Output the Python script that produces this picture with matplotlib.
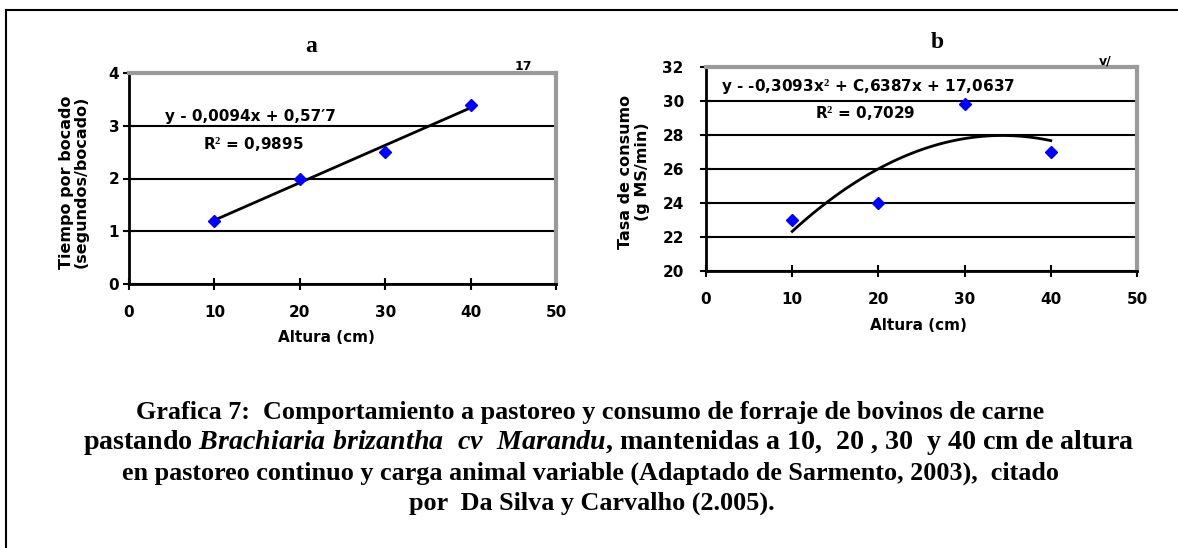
import numpy as np
import matplotlib
matplotlib.use("Agg")
import matplotlib.pyplot as plt

# data
altura = [10, 20, 30, 40]
tiempo_bocado = [1.2, 2.0, 2.5, 3.4]
tasa_consumo = [23.0, 24.0, 29.8, 27.0]

xticks = [0, 10, 20, 30, 40, 50]
yticks_a = [0, 1, 2, 3, 4]
yticks_b = [20, 22, 24, 26, 28, 30, 32]

eq_a = "y - 0,0094x + 0,57\u20327"
r2_a = "R$^2$ = 0,9895"
eq_b = "y - -0,3093x$^2$ + C,6387x + 17,0637"
r2_b = "R$^2$ = 0,7029"

caption = [
    "Grafica 7:  Comportamiento a pastoreo y consumo de forraje de bovinos de carne",
    r"pastando $\mathit{Brachiaria\ brizantha\ \ cv\ \ Marandu}$, mantenidas a 10,  20 , 30  y 40 cm de altura",
    "en pastoreo continuo y carga animal variable (Adaptado de Sarmento, 2003),  citado",
    "por  Da Silva y Carvalho (2.005).",
]
caption_x = [590, 609, 590, 592]
caption_size = [18.8, 20.2, 18.8, 18.8]

plt.rcParams['font.family'] = ['DejaVu Sans']
plt.rcParams['mathtext.fontset'] = 'custom'
plt.rcParams['mathtext.rm'] = 'Liberation Serif:bold'
plt.rcParams['mathtext.it'] = 'Liberation Serif:italic:bold'
plt.rcParams['mathtext.bf'] = 'Liberation Serif:bold'

W, H = 1178, 548
fig = plt.figure(figsize=(W / 100, H / 100), dpi=100)
fig.patch.set_facecolor('white')


def fx(px):
    return px / W


def fy(py):
    return 1 - py / H


# outer frame of the scanned figure
fig.add_artist(plt.Line2D([fx(6), fx(6)], [fy(10), fy(560)], color='black', lw=1.5))
fig.add_artist(plt.Line2D([fx(6), fx(1190)], [fy(10), fy(10)], color='black', lw=1.5))


def style_axes(ax, yticks, ypad):
    ax.set_facecolor('white')
    for s in ['left', 'bottom']:
        ax.spines[s].set_color('black')
        ax.spines[s].set_linewidth(2)
    for s in ['top', 'right']:
        ax.spines[s].set_color('#9a9a9a')
        ax.spines[s].set_linewidth(3)
    ax.set_xlim(0, 50)
    ax.set_xticks(xticks)
    ax.set_ylim(yticks[0], yticks[-1])
    ax.set_yticks(yticks)
    ax.grid(axis='y', color='black', lw=1.5)
    ax.set_axisbelow(True)
    ax.tick_params(direction='inout', length=8, width=1.5, color='black')
    ax.tick_params(axis='x', pad=11, labelsize=11)
    ax.tick_params(axis='y', pad=ypad, labelsize=11)
    for lab in ax.get_xticklabels() + ax.get_yticklabels():
        lab.set_fontweight('bold')


# panel a
ax1 = fig.add_axes([fx(129), fy(284), fx(556 - 129), (284 - 73) / H])
style_axes(ax1, yticks_a, 3)
ca = np.polyfit(altura, tiempo_bocado, 1)
xs = np.linspace(altura[0], altura[-1], 50)
ax1.plot(xs, np.polyval(ca, xs), color='black', lw=2)
ax1.plot(altura, tiempo_bocado, 'D', color='#0000ff', ms=6, zorder=5)

# panel b
ax2 = fig.add_axes([fx(706), fy(271), fx(1137 - 706), (271 - 67) / H])
style_axes(ax2, yticks_b, 12)
cb = np.polyfit(altura, tasa_consumo, 2)
ax2.plot(xs, np.polyval(cb, xs), color='black', lw=2)
ax2.plot(altura, tasa_consumo, 'D', color='#0000ff', ms=6, zorder=5)

# titles and axis labels
fig.text(fx(311), fy(47), "a", family='Liberation Serif', fontweight='bold',
         fontsize=17, ha='center', va='center')
fig.text(fx(937), fy(42), "b", family='Liberation Serif', fontweight='bold',
         fontsize=17, ha='center', va='center')
fig.text(fx(74), fy(182), "Tiempo por bocado\n(segundos/bocado)", rotation=90,
         fontweight='bold', fontsize=11.5, ha='center', va='center', linespacing=1.0)
fig.text(fx(634), fy(172), "Tasa de consumo\n(g MS/min)", rotation=90,
         fontweight='bold', fontsize=11.5, ha='center', va='center', linespacing=1.2)
fig.text(fx(326), fy(338), "Altura (cm)", fontweight='bold', fontsize=11,
         ha='center', va='center')
fig.text(fx(918), fy(326), "Altura (cm)", fontweight='bold', fontsize=11,
         ha='center', va='center')

# trendline equations
fig.text(fx(165), fy(117), eq_a, fontweight='bold', fontsize=11, ha='left', va='center')
fig.text(fx(203), fy(144), r2_a, fontweight='bold', fontsize=11, ha='left', va='center')
fig.text(fx(721), fy(86), eq_b, fontweight='bold', fontsize=11, ha='left', va='center')
fig.text(fx(815), fy(113), r2_b, fontweight='bold', fontsize=11, ha='left', va='center')

# legend fragments peeking over the plot areas
fig.text(fx(523), fy(73), "17", fontweight='bold', fontsize=9, ha='center', va='bottom')
fig.text(fx(1105), fy(67), "v/", fontweight='bold', fontsize=9, ha='center', va='bottom')

# caption
for i, line in enumerate(caption):
    fig.text(fx(caption_x[i]), fy(412 + 30.5 * i), line, family='Liberation Serif',
             fontweight='bold', fontsize=caption_size[i], ha='center', va='center')

fig.savefig("out.png", dpi=100, facecolor='white')
